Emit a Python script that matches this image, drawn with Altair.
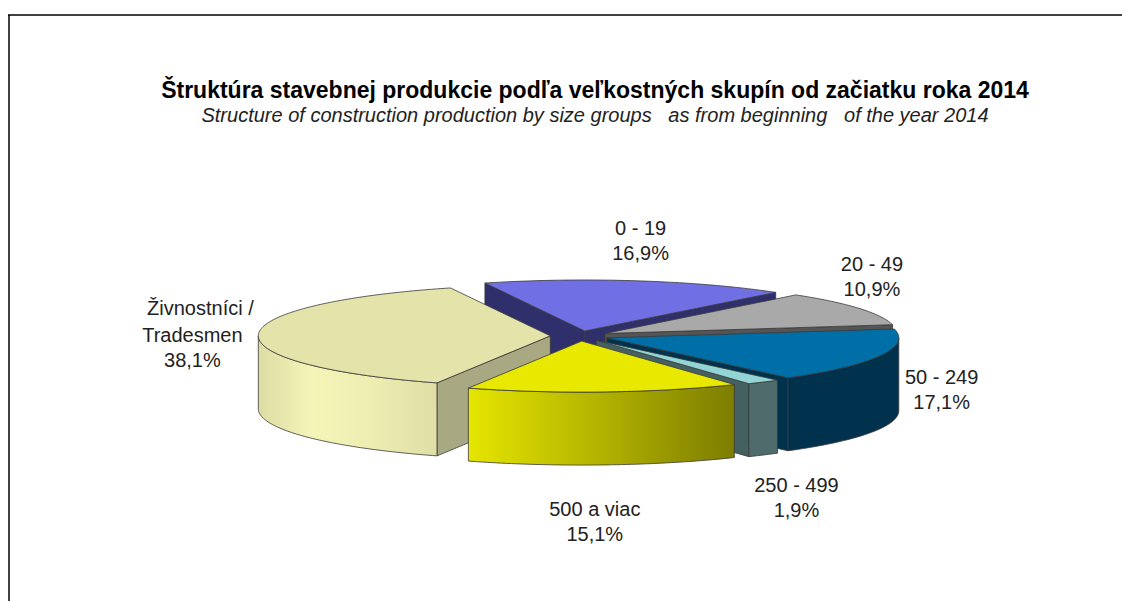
import math
import altair as alt

# ---- data ----
groups = ["0 - 19", "20 - 49", "50 - 249", "250 - 499", "500 a viac", "Tradesmen"]
trades_first_line = "Živnostníci /"
shares = [16.9, 10.9, 17.1, 1.9, 15.1, 38.1]
share_labels = ["16,9%", "10,9%", "17,1%", "1,9%", "15,1%", "38,1%"]

# ---- styles ----
top_colors = ["#7070e4", "#a9a9a9", "#006fa8", "#93d4d4", "#e8e800", "#e3e3aa"]
face_colors = ["#2f2f6c", "#555555", "#00324e", "#456060", "#7f7f00", "#a8a882"]
wall_fills = [
    "#2f2f6c",
    "#555555",
    "#00324e",
    "#4f6b6b",
    alt.LinearGradient(gradient="linear", x1=0, x2=1, y1=0, y2=0, stops=[
        alt.GradientStop(offset=0, color="#e6e600"),
        alt.GradientStop(offset=1, color="#7d7d00")]),
    alt.LinearGradient(gradient="linear", x1=0, x2=1, y1=0, y2=0, stops=[
        alt.GradientStop(offset=0, color="#dcdca4"),
        alt.GradientStop(offset=0.3, color="#f5f5b8"),
        alt.GradientStop(offset=0.65, color="#ededb2"),
        alt.GradientStop(offset=1, color="#dedea6")]),
]
# painter's order: back slices first
paint_order = [0, 1, 5, 2, 3, 4]

# ---- layout (chart coordinates = page coordinates minus 8px margin) ----
W, H = 1114, 593
CX, CY = 571.5, 328.0
RX, RY = 292.0, 51.0
DEPTH = 73.0
EXPLODE = 0.1
START = -20.0
label_dx = [3, 13, 62, 33, -9, -66]
label_dy = [-52, -43, -51, 31, 45, 1]
LINE = 25

FONT = "Liberation Sans"


def feature(points):
    ring = [[round(x, 2), round(y, 2)] for x, y in points]
    ring.append(ring[0])
    return {"type": "Feature", "properties": {},
            "geometry": {"type": "Polygon", "coordinates": [ring]}}


def rim(apex, deg, dz=0.0):
    t = math.radians(deg)
    return (apex[0] + RX * math.sin(t), apex[1] - RY * math.cos(t) + dz)


def arc_points(apex, a, b, dz=0.0):
    n = max(2, int(abs(b - a)) + 1)
    return [rim(apex, a + (b - a) * i / n, dz) for i in range(n + 1)]


def poly(points, fill):
    return alt.Chart(alt.Data(values=[feature(points)])).mark_geoshape(
        fill=fill, stroke="#3a3a3a", strokeWidth=0.8, strokeJoin="round")


layers = []
extent = alt.Chart(alt.Data(values=[feature([(0, 0), (W, 0), (W, H), (0, H)])])).mark_geoshape(
    fill="#ffffff", stroke=None, strokeWidth=0)
layers.append(extent)

total = sum(shares)
angles = [START]
for s in shares:
    angles.append(angles[-1] + 360.0 * s / total)

apexes, mids = [], []
for i in range(len(shares)):
    m = (angles[i] + angles[i + 1]) / 2
    t = math.radians(m)
    mids.append(m)
    apexes.append((CX + EXPLODE * RX * math.sin(t), CY - EXPLODE * RY * math.cos(t)))

for i in paint_order:
    a, b, apex = angles[i], angles[i + 1], apexes[i]
    bottom = (apex[0], apex[1] + DEPTH)
    if math.sin(math.radians(a)) < 0:
        layers.append(poly([apex, rim(apex, a), rim(apex, a, DEPTH), bottom], face_colors[i]))
    if math.sin(math.radians(b)) > 0:
        layers.append(poly([apex, rim(apex, b), rim(apex, b, DEPTH), bottom], face_colors[i]))
    wa, wb = max(a, 90.0), min(b, 270.0)
    if wb > wa:
        layers.append(poly(arc_points(apex, wa, wb) + arc_points(apex, wb, wa, DEPTH), wall_fills[i]))
    layers.append(poly([apex] + arc_points(apex, a, b), top_colors[i]))

# ---- slice labels ----
label_rows = []
for i in range(len(shares)):
    t = math.radians(mids[i])
    depth_shift = DEPTH if 90 < mids[i] < 270 else 0
    label_rows.append({
        "label": groups[i] + "\n" + share_labels[i],
        "lx": apexes[i][0] + RX * math.sin(t) + label_dx[i],
        "ly": apexes[i][1] - RY * math.cos(t) + depth_shift + label_dy[i],
    })
# the first line of the last label sits slightly right of the centred lines below it
label_rows.append({"label": trades_first_line,
                   "lx": label_rows[5]["lx"] + 8,
                   "ly": label_rows[5]["ly"] - LINE - 1.5})

labels = alt.Chart(alt.Data(values=label_rows)).mark_text(
    font=FONT, fontSize=20, lineBreak="\n", lineHeight=LINE, color="#222222",
    align="center", baseline="middle"
).encode(
    x=alt.X("lx:Q", axis=None, scale=alt.Scale(domain=[0, W], range=[0, W])),
    y=alt.Y("ly:Q", axis=None, scale=alt.Scale(domain=[0, H], range=[0, H])),
    text="label:N",
)
layers.append(labels)

# ---- picture frame ----
frame_top = alt.Chart(alt.Data(values=[{"k": 0}])).mark_rule(color="#000000", strokeWidth=1.5).encode(
    x=alt.value(0), x2=alt.value(W), y=alt.value(7))
frame_left = alt.Chart(alt.Data(values=[{"k": 0}])).mark_rule(color="#000000", strokeWidth=1.5).encode(
    x=alt.value(1), y=alt.value(7), y2=alt.value(H))
layers += [frame_top, frame_left]

chart = alt.layer(*layers).resolve_scale(x="independent", y="independent").properties(
    width=W, height=H,
    padding=0,
    autosize=alt.AutoSizeParams(type="none"),
    projection=alt.Projection(type="identity", scale=1, translate=[0, 0]),
    title=alt.TitleParams(
        text="Štruktúra stavebnej produkcie podľa veľkostných skupín od začiatku roka 2014",
        subtitle="Structure of construction production by size groups\u00a0\u00a0\u00a0as from beginning\u00a0\u00a0\u00a0of the year 2014",
        font=FONT, fontSize=23, fontWeight="bold", color="#000000",
        subtitleFont=FONT, subtitleFontSize=20, subtitleFontStyle="italic",
        subtitleColor="#222222", subtitlePadding=1,
        anchor="middle", dx=30, offset=-136, baseline="alphabetic",
    ),
).configure_view(stroke=None)

chart.save("out.html", embed_options={"renderer": "svg", "actions": False})
